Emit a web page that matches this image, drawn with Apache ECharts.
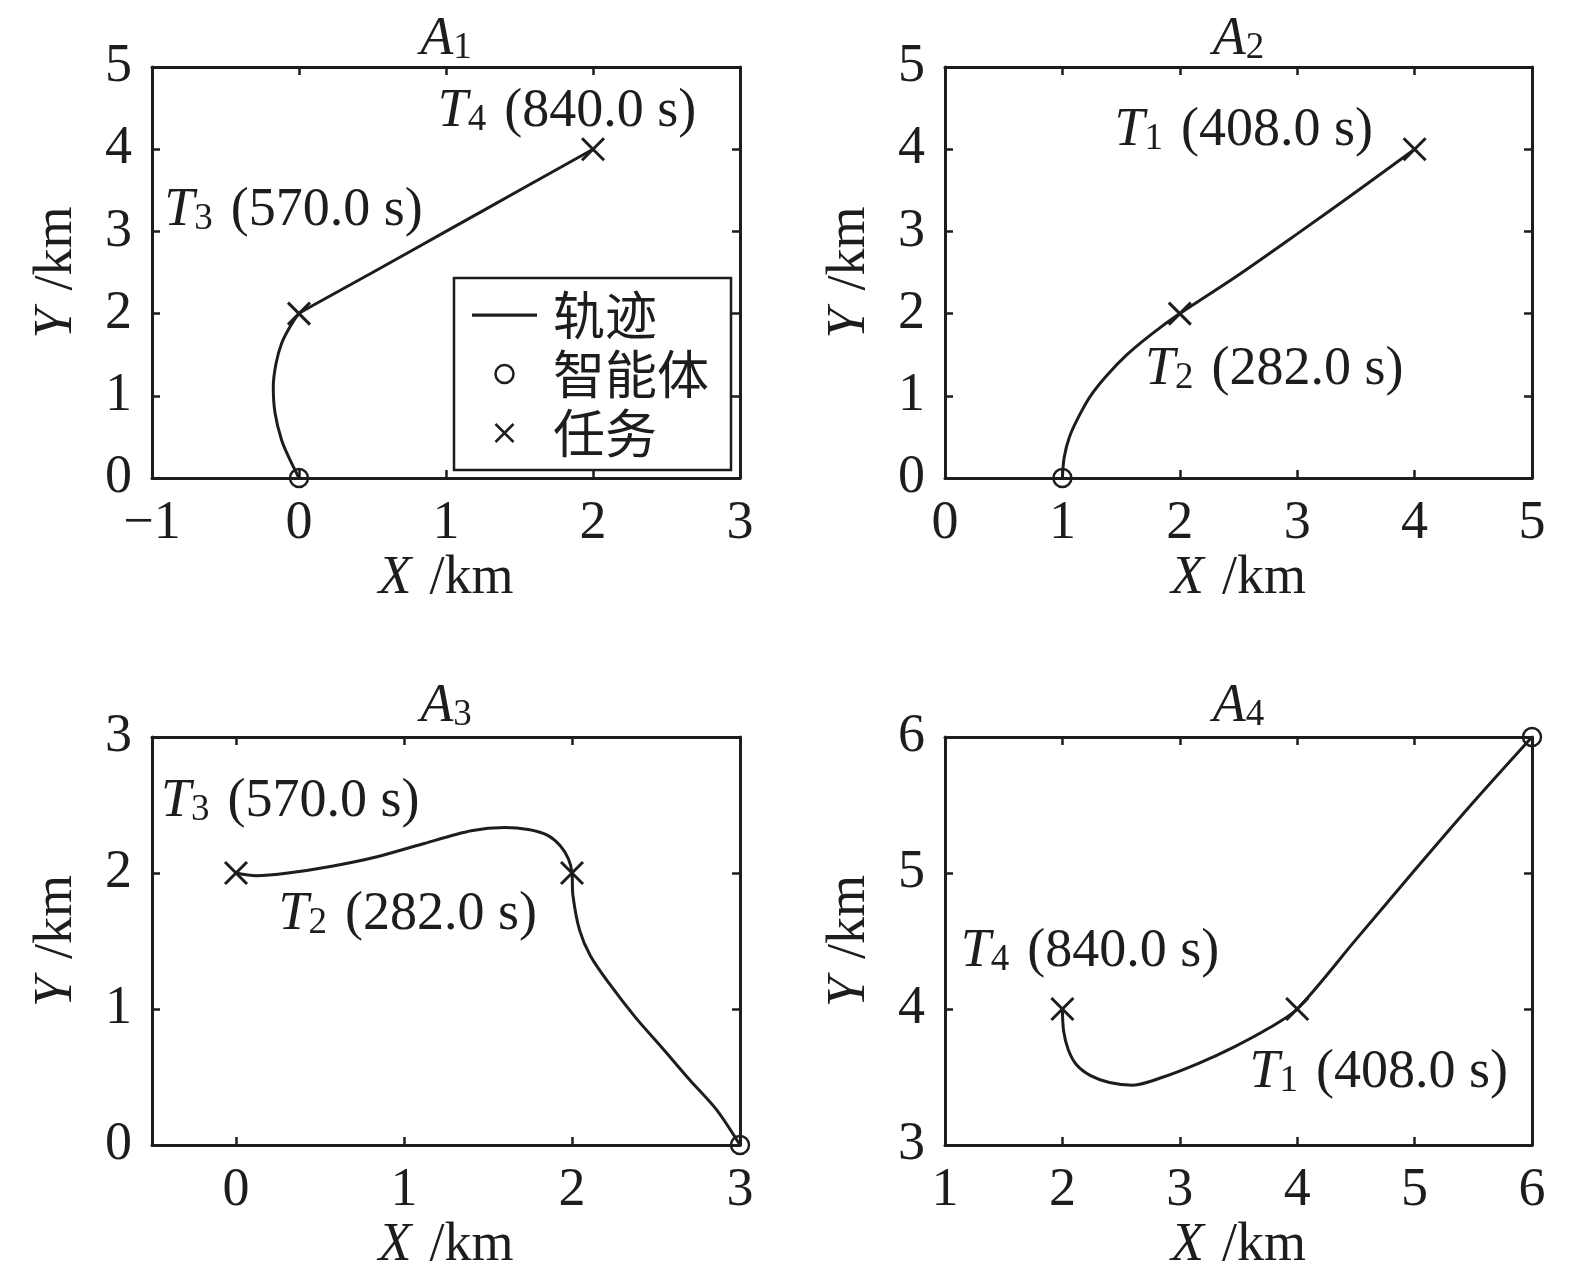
<!DOCTYPE html>
<html><head><meta charset="utf-8">
<script src="https://cdn.jsdelivr.net/npm/echarts@6/dist/echarts.min.js"></script>
<style>html,body{margin:0;padding:0;background:#fff}#c{width:1575px;height:1283px}</style>
</head><body><div id="c"></div>
<script>
// ---------------- data ----------------
const agentIds = ['1', '2', '3', '4'];
const xTicks = [[-1, 0, 1, 2, 3], [0, 1, 2, 3, 4, 5], [0, 1, 2, 3], [1, 2, 3, 4, 5, 6]];
const yTicks = [[0, 1, 2, 3, 4, 5], [0, 1, 2, 3, 4, 5], [0, 1, 2, 3], [3, 4, 5, 6]];
const xRange = [[-1, 3], [0, 5], [-0.5, 3], [1, 6]];
const yRange = [[0, 5], [0, 5], [0, 3], [3, 6]];

const trajX1 = [0, -0.061, -0.118, -0.163, -0.175, -0.156, -0.118, -0.061, 0, 0.075, 0.5, 1.0, 1.5, 2.0];
const trajY1 = [0, 0.22, 0.46, 0.79, 1.11, 1.395, 1.64, 1.84, 2.0, 2.08, 2.5, 3.0, 3.5, 4.0];
const trajX2 = [1.0, 1.015, 1.06, 1.14, 1.24, 1.38, 1.55, 1.76, 2.0, 2.5, 3.0, 3.5, 4.0];
const trajY2 = [0, 0.25, 0.5, 0.75, 1.0, 1.25, 1.5, 1.75, 2.0, 2.47, 2.97, 3.48, 4.0];
const trajX3 = [3.0, 2.86, 2.70, 2.54, 2.38, 2.22, 2.11, 2.045, 2.005, 2.0, 1.98, 1.93, 1.85, 1.74, 1.60, 1.40, 1.10, 0.84, 0.57, 0.31, 0.12, 0.0];
const trajY3 = [0.0, 0.26, 0.48, 0.71, 0.935, 1.19, 1.39, 1.58, 1.84, 2.0, 2.10, 2.20, 2.28, 2.32, 2.335, 2.31, 2.21, 2.12, 2.05, 2.0, 1.98, 2.0];
const trajX4 = [6, 5.5, 5.0, 4.5, 4.0, 3.76, 3.46, 3.16, 2.86, 2.60, 2.40, 2.24, 2.12, 2.05, 2.01, 2.0];
const trajY4 = [6, 5.52, 5.02, 4.51, 4.0, 3.86, 3.72, 3.60, 3.50, 3.44, 3.46, 3.51, 3.59, 3.70, 3.84, 4.0];
const trajX = [trajX1, trajX2, trajX3, trajX4];
const trajY = [trajY1, trajY2, trajY3, trajY4];

const agentX = [0, 1, 3, 6];
const agentY = [0, 0, 0, 6];

const taskX = [[0, 2], [2, 4], [0, 2], [2, 4]];
const taskY = [[2, 4], [2, 4], [2, 2], [4, 4]];

// annotation text: task id, time, anchor (left edge, vertical middle) in data units
const noteTask = [['4', '3'], ['1', '2'], ['3', '2'], ['4', '1']];
const noteTime = [['840.0', '570.0'], ['408.0', '282.0'], ['570.0', '282.0'], ['840.0', '408.0']];
const noteX = [[0.94, -0.92], [1.44, 1.70], [-0.45, 0.25], [1.13, 3.59]];
const noteY = [[4.46, 3.25], [4.22, 1.32], [2.52, 1.69], [4.42, 3.53]];

const legendNames = ['轨迹', '智能体', '任务'];

// ---------------- style / layout ----------------
const INK = '#1f1c1d';
const SERIF = '"Liberation Serif", "Times New Roman", serif';
const CJK = '"Noto Sans CJK SC", sans-serif';
const FS = 54;
const grids = [
  {left: 152, top: 67, width: 588, height: 411},
  {left: 945, top: 67, width: 587, height: 411},
  {left: 152, top: 737, width: 588, height: 408},
  {left: 945, top: 737, width: 587, height: 408}
];
const titleTops = [13, 13, 680, 680];
const CROSS = 'path://M0,0L20,20M20,0L0,20';

const rich = {
  i: {fontFamily: SERIF, fontStyle: 'italic', fontWeight: 'normal', fontSize: FS, color: INK, lineHeight: FS},
  s: {fontFamily: SERIF, fontWeight: 'normal', fontSize: 37, color: INK, verticalAlign: 'bottom', lineHeight: 20},
  n: {fontFamily: SERIF, fontWeight: 'normal', fontSize: FS, color: INK, lineHeight: FS}
};

const fmt = v => (v < 0 ? '\u2212' + Math.abs(v) : String(v));

const xAxis = [], yAxis = [], series = [], title = [];
for (let k = 0; k < 4; k++) {
  const lineCommon = {show: true, onZero: false, lineStyle: {color: INK, width: 3}};
  const tickX = {show: true, inside: true, length: 8, lineStyle: {color: INK, width: 2.5}, customValues: xTicks[k]};
  const tickY = {show: true, inside: true, length: 8, lineStyle: {color: INK, width: 2.5}, customValues: yTicks[k]};
  xAxis.push({
    type: 'value', gridIndex: k, position: 'bottom', min: xRange[k][0], max: xRange[k][1],
    axisLine: lineCommon, axisTick: tickX, splitLine: {show: false},
    axisLabel: {show: true, customValues: xTicks[k], formatter: fmt, fontFamily: SERIF, fontSize: FS, color: INK, margin: 19},
    name: '{i|X}{n| \u200A/km}', nameLocation: 'middle', nameGap: 73, nameTextStyle: {rich: rich}
  });
  xAxis.push({
    type: 'value', gridIndex: k, position: 'top', min: xRange[k][0], max: xRange[k][1],
    axisLine: lineCommon, axisTick: tickX, splitLine: {show: false}, axisLabel: {show: false}
  });
  yAxis.push({
    type: 'value', gridIndex: k, position: 'left', min: yRange[k][0], max: yRange[k][1],
    axisLine: lineCommon, axisTick: tickY, splitLine: {show: false},
    axisLabel: {show: true, customValues: yTicks[k], formatter: fmt, fontFamily: SERIF, fontSize: FS, color: INK, margin: 20},
    name: '{i|Y}{n| \u200A/km}', nameLocation: 'middle', nameGap: 68, nameTextStyle: {rich: rich}
  });
  yAxis.push({
    type: 'value', gridIndex: k, position: 'right', min: yRange[k][0], max: yRange[k][1],
    axisLine: lineCommon, axisTick: tickY, splitLine: {show: false}, axisLabel: {show: false}
  });
  title.push({
    text: '{i|A}{s|' + agentIds[k] + '}', left: grids[k].left + grids[k].width / 2, top: titleTops[k],
    textAlign: 'center', padding: 0, textStyle: {fontWeight: 'normal', rich: rich}
  });

  series.push({
    name: legendNames[0], type: 'line', xAxisIndex: 2 * k, yAxisIndex: 2 * k,
    data: trajX[k].map((x, i) => [x, trajY[k][i]]), smooth: 0.3, symbol: 'none', clip: false,
    lineStyle: {color: INK, width: 3}, itemStyle: {color: INK}, z: 3, silent: true
  });
  series.push({
    name: legendNames[1], type: 'scatter', xAxisIndex: 2 * k, yAxisIndex: 2 * k,
    data: [[agentX[k], agentY[k]]], symbol: 'circle', symbolSize: 18, clip: false,
    itemStyle: {color: 'rgba(0,0,0,0)', borderColor: INK, borderWidth: 2.5, opacity: 1}, z: 4, silent: true
  });
  series.push({
    name: legendNames[2], type: 'scatter', xAxisIndex: 2 * k, yAxisIndex: 2 * k,
    data: taskX[k].map((x, i) => [x, taskY[k][i]]), symbol: CROSS, symbolSize: 22, clip: false,
    itemStyle: {color: 'rgba(0,0,0,0)', borderColor: INK, borderWidth: 3, opacity: 1}, z: 4, silent: true
  });
  series.push({
    name: 'note' + k, type: 'scatter', xAxisIndex: 2 * k, yAxisIndex: 2 * k, clip: false,
    data: noteX[k].map((x, i) => ({value: [x, noteY[k][i]], task: noteTask[k][i], time: noteTime[k][i]})),
    symbol: 'circle', symbolSize: 1, itemStyle: {color: 'rgba(0,0,0,0)', opacity: 1}, z: 5, silent: true,
    label: {
      show: true, position: 'right', distance: 0, color: INK, opacity: 1,
      formatter: p => '{i|T}{s|' + p.data.task + '}{n| \u200A(' + p.data.time + ' s)}',
      rich: rich
    }
  });
}

const chart = echarts.init(document.getElementById('c'), null, {renderer: 'canvas'});
chart.setOption({
  animation: false,
  backgroundColor: '#fff',
  grid: grids,
  xAxis: xAxis,
  yAxis: yAxis,
  title: title,
  legend: {
    data: [
      {name: legendNames[0], icon: 'path://M0,0L60,0L60,3L0,3Z', itemStyle: {borderWidth: 0}},
      {name: legendNames[1], icon: 'circle', itemStyle: {borderWidth: 2.5}},
      {name: legendNames[2], icon: CROSS, itemStyle: {borderWidth: 2.5}}
    ],
    orient: 'vertical', left: 454, top: 278,
    itemWidth: 65, itemHeight: 18, itemGap: 7,
    padding: [11, 22, 11, 18],
    backgroundColor: '#fff', borderColor: INK, borderWidth: 2.5, borderRadius: 0,
    selectedMode: false,
    textStyle: {fontFamily: CJK, fontSize: 52, color: INK, lineHeight: 52, padding: [0, 0, 0, 11]},
    z: 10
  },
  series: series
});
</script>
</body></html>
